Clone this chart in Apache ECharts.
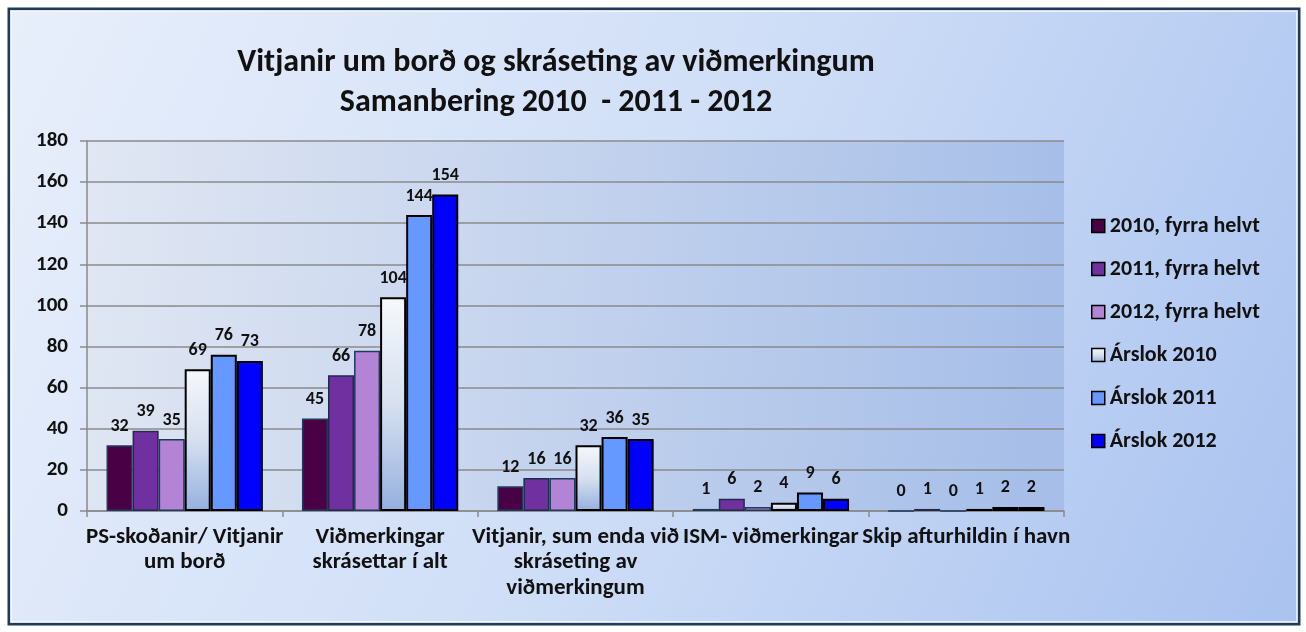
<!DOCTYPE html>
<html>
<head>
<meta charset="utf-8">
<script src="https://cdn.jsdelivr.net/npm/echarts@6/dist/echarts.min.js"></script>
<style>
html,body{margin:0;padding:0;background:#ffffff;}
#chart{width:1306px;height:632px;}
</style>
</head>
<body>
<div id="chart"></div>
<script>
const titleText = 'Vitjanir um borð og skráseting av viðmerkingum\nSamanbering 2010  - 2011 - 2012';
const categories = [
  'PS-skoðanir/ Vitjanir\num borð',
  'Viðmerkingar\nskrásettar í alt',
  'Vitjanir, sum enda við\nskráseting av\nviðmerkingum',
  'ISM- viðmerkingar',
  'Skip afturhildin í havn'
];
const seriesNames = ['2010, fyrra helvt','2011, fyrra helvt','2012, fyrra helvt','Árslok 2010','Árslok 2011','Árslok 2012'];
const v2010h1 = [32, 45, 12, 1, 0];
const v2011h1 = [39, 66, 16, 6, 1];
const v2012h1 = [35, 78, 16, 2, 0];
const v2010y  = [69, 104, 32, 4, 1];
const v2011y  = [76, 144, 36, 9, 2];
const v2012y  = [73, 154, 35, 6, 2];
const yTicks = [0, 20, 40, 60, 80, 100, 120, 140, 160, 180];

const FONT = 'Carlito, Lato, "Open Sans", sans-serif';
const values = [v2010h1, v2011h1, v2012h1, v2010y, v2011y, v2012y];
const fills = [
  '#4a0044',
  '#7030a0',
  '#b383d6',
  {type:'linear',x:0,y:0,x2:0,y2:1,colorStops:[{offset:0,color:'#f6f8fc'},{offset:0.5,color:'#d6e0f0'},{offset:1,color:'#95b0de'}]},
  '#6699ff',
  '#0000ff'
];
const borders = ['#1f3a5f','#1f2a50','#1f3a5f','#000000','#000000','#000000'];
const bw = [1.5,1.5,1.5,2,2,2];

const series = seriesNames.map((n,i)=>({
  name:n,
  type:'bar',
  data: values[i],
  barGap:'0%',
  barCategoryGap:'20%',
  itemStyle:{color:fills[i], borderColor:borders[i], borderWidth:bw[i]},
  label:{show:true, position:'top', distance:10, fontFamily:FONT, fontWeight:'bold', fontSize:18, color:'#111'}
}));

const chart = echarts.init(document.getElementById('chart'));
chart.setOption({
  animation:false,
  backgroundColor:'#ffffff',
  graphic:[
    {type:'rect', z:-10, shape:{x:9,y:9,width:1290,height:615},
     style:{fill:{type:'linear',x:0,y:0,x2:1,y2:1,colorStops:[{offset:0,color:'#e8effb'},{offset:0.5,color:'#cfdef7'},{offset:1,color:'#a9c2ef'}]},
            stroke:'#1f3a5f', lineWidth:3}},
    {type:'rect', z:-9, shape:{x:11,y:11,width:1286,height:611},
     style:{fill:'none', stroke:'rgba(255,255,255,0.7)', lineWidth:2}}
  ],
  title:{
    text:titleText,
    left:551, top:38, textAlign:'center',
    textStyle:{fontFamily:FONT, fontWeight:'bold', fontSize:32, lineHeight:40, color:'#111'}
  },
  legend:{
    orient:'vertical', left:1091, top:215, padding:0,
    itemWidth:13, itemHeight:13, itemGap:21,
    icon:'rect',
    textStyle:{fontFamily:FONT, fontWeight:'bold', fontSize:22, lineHeight:22, color:'#111'},
    data: seriesNames.map((n,i)=>({name:n, itemStyle:{borderColor:'#000', borderWidth:1.5}}))
  },
  grid:{
    left:87, right:242, top:141, bottom:121,
    show:true, borderWidth:0,
    backgroundColor:{type:'linear',x:0,y:0,x2:1,y2:0.3,colorStops:[{offset:0,color:'#e1e7f3'},{offset:1,color:'#a6bee8'}]}
  },
  xAxis:{
    type:'category', data:categories,
    axisLine:{lineStyle:{color:'#8a8a8a', width:1.5}},
    axisTick:{show:true, interval:0, length:6, lineStyle:{color:'#8a8a8a', width:1.5}},
    axisLabel:{interval:0, margin:13, fontFamily:FONT, fontWeight:'bold', fontSize:23, lineHeight:25.5, color:'#111'}
  },
  yAxis:{
    type:'value', min:yTicks[0], max:yTicks[yTicks.length-1], interval:20,
    axisLine:{show:true, lineStyle:{color:'#8a8a8a', width:1.5}},
    axisTick:{show:true, length:7, lineStyle:{color:'#8a8a8a', width:1.5}},
    splitLine:{show:true, lineStyle:{color:'#8a8a8a', width:1.5}},
    axisLabel:{margin:19, fontFamily:FONT, fontWeight:'bold', fontSize:21, color:'#111'}
  },
  series: series
});
</script>
</body>
</html>
